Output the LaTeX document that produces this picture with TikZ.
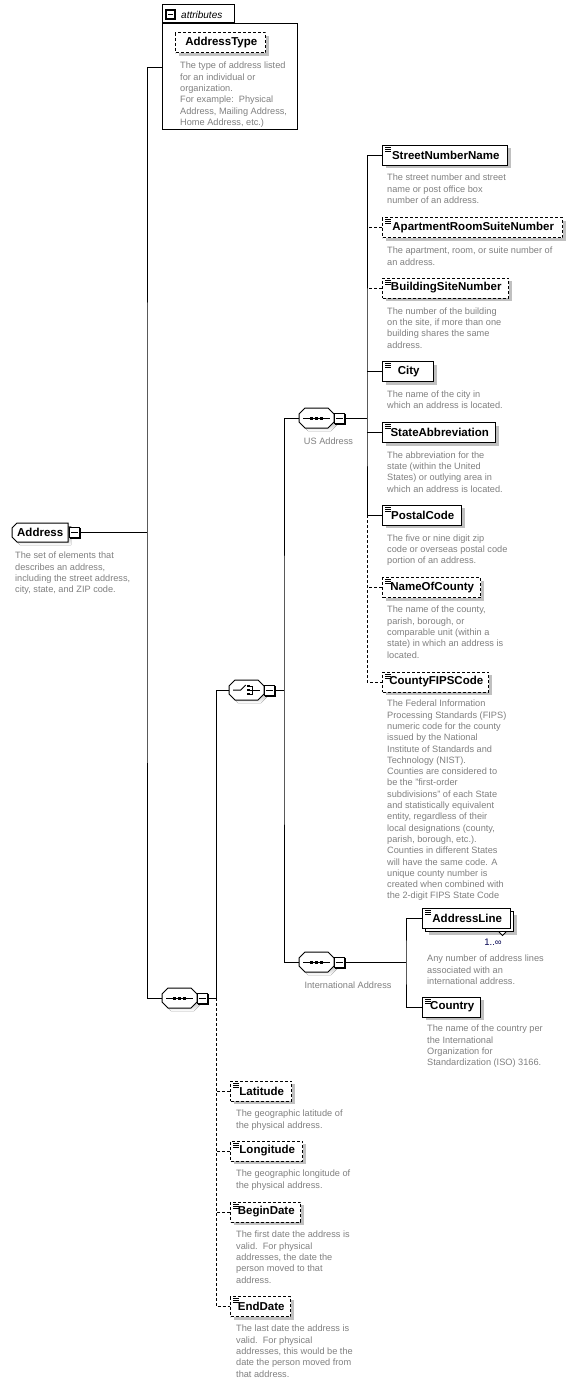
\documentclass[tikz,border=0pt]{standalone}
\usepackage{fontspec}
\setmainfont{Liberation Sans}
\usetikzlibrary{calc,shadows}
\definecolor{desctext}{RGB}{128,128,128}
\definecolor{shade}{RGB}{192,192,192}
\definecolor{occur}{RGB}{0,0,80}
\tikzset{
  conn/.style={line width=1pt},
  optconn/.style={line width=1pt, dash pattern=on 3pt off 2pt},
  elembox/.style={draw, fill=white, line width=1pt, minimum height=20pt, inner xsep=0pt, inner ysep=0pt, anchor=west,
    font=\fontsize{11.5}{13}\selectfont\bfseries, execute at begin node={\hspace*{1.5pt}}},
  shadowed/.style={drop shadow={shadow xshift=3pt, shadow yshift=-3pt, fill=shade, opacity=1}},
  reqbox/.style={elembox, shadowed},
  optbox/.style={elembox, shadowed, dash pattern=on 3pt off 2pt},
  descr/.style={anchor=north west, inner sep=0pt, align=left, text=desctext, font=\fontsize{9.2}{11.3}\selectfont, yshift=-1.5pt},
  complabel/.style={inner sep=0pt, text=desctext, font=\fontsize{9.2}{11.3}\selectfont},
}
\newcommand\elicon[1]{%
  \draw[line width=0.7pt] ([shift={(3,2.5)}]#1.north west) -- ++(6,0)
    ([shift={(3,4.5)}]#1.north west) -- ++(6,0)
    ([shift={(3,6.5)}]#1.north west) -- ++(6,0);}
\newcommand\minusnode[3]{%
  \node[draw, fill=white, line width=1pt, minimum width=10pt, minimum height=10pt, inner sep=0pt] (#1) at (#2,#3) {};
  \draw[line width=1pt] ($(#1.west)+(2,0)$) -- ($(#1.east)+(-2,0)$);
  \draw[line width=1pt] ($(#1.north east)+(0.8,1.2)$) -- ($(#1.south east)+(0.8,0.8)$) -- ($(#1.south west)+(1.2,0.8)$);}
\newcommand\compnode[3]{%
  \node[minimum width=35pt, minimum height=20pt, inner sep=0pt, anchor=west] (#1) at (#2,#3) {};
  \fill[shade] ([shift={(3,-1)}]#1.west) -- ++(6,-6) -- ++(23,0) -- ++(6,6) -- ++(0,8) -- ++(-6,6) -- ++(-23,0) -- ++(-6,-6) -- cycle;
  \draw[fill=white, line width=1pt] ([shift={(0,-4)}]#1.west) -- ++(6,-6) -- ++(23,0) -- ++(6,6) -- ++(0,8) -- ++(-6,6) -- ++(-23,0) -- ++(-6,-6) -- cycle;}
\newcommand\seqicon[1]{%
  \draw[line width=1pt] ([shift={(4,0)}]#1.west) -- ([shift={(-4,0)}]#1.east);
  \foreach \dx in {-5,0,5} \fill ([shift={(\dx-1.5,-1.5)}]#1.center) rectangle ++(3,3);}
\newcommand\choiceicon[1]{%
  \draw[line width=1pt] ([shift={(4,0)}]#1.west) -- ([shift={(-6,0)}]#1.center) -- ([shift={(-1,-5)}]#1.center);
  \foreach \dy in {-4,0,4} \fill ([shift={(0.3,\dy-1.3)}]#1.center) rectangle ++(2.6,2.6);
  \draw[line width=0.8pt] ([shift={(3,-4)}]#1.center) -- ++(3,0) -- ++(0,8) -- ++(-3,0)
    ([shift={(3,0)}]#1.center) -- ([shift={(-4,0)}]#1.east);}
\begin{document}
\begin{tikzpicture}[x=1pt,y=-1pt]
\useasboundingbox[fill=white] (0,0) rectangle (576,1383);

% ---------- attributes group ----------
\node[draw, line width=1pt, anchor=north west, minimum width=135pt, minimum height=106pt, inner sep=0pt] (attrs) at (162,23) {};
\node[draw, line width=1pt, anchor=south west, minimum width=72pt, minimum height=18pt, inner sep=0pt] (attrtab) at (attrs.north west) {};
\draw[line width=1.2pt] (166,10) rectangle (175,19);
\draw[line width=1pt] (168,14.5) -- (173,14.5);
\node[anchor=west, inner sep=0pt, font=\fontsize{10}{12}\selectfont\itshape] (attrlabel) at (181,14.5) {attributes};
\node[optbox, minimum width=90pt] (atype) at (175,43) {AddressType};
\node[descr] (d-atype) at (180,60.5) {The type of address listed\\for an individual or\\organization.\\For example:\ \ Physical\\Address, Mailing Address,\\Home Address, etc.)};
\coordinate (attrin) at (162,68);

% ---------- root ----------
\fill[shade] (20,526) -- (71,526) -- (71,545) -- (20,545) -- (15,540) -- (15,531) -- cycle;
\draw[fill=white, line width=1pt] (17,523) -- (68,523) -- (68,542) -- (17,542) -- (12,537) -- (12,528) -- cycle;
\node[inner sep=0pt, minimum width=56pt, minimum height=19pt, anchor=west, font=\fontsize{11.5}{13}\selectfont\bfseries] (address) at (12,532.5) {Address};
\minusnode{m-address}{74.5}{532.5}
\node[descr] (d-address) at (15,550.5) {The set of elements that\\describes an address,\\including the street address,\\city, state, and ZIP code.};
\coordinate (jA) at (147,532.5);

% ---------- main sequence ----------
\compnode{seq0}{162}{998}
\seqicon{seq0}
\minusnode{m-seq0}{202}{998}
\coordinate (jB) at (216,998);

% ---------- choice ----------
\compnode{ch}{229}{690}
\choiceicon{ch}
\minusnode{m-ch}{269}{690}
\coordinate (jC) at (284,690);

% ---------- US Address ----------
\compnode{usa}{299}{418}
\seqicon{usa}
\minusnode{m-usa}{339}{418}
\node[complabel] (l-usa) at (328.5,441) {US Address};
\coordinate (jD) at (367,418);

\node[reqbox, minimum width=125pt] (sn) at (382,155.5) {StreetNumberName}; \elicon{sn}
\node[descr] (d-sn) at (387,172.5) {The street number and street\\name or post office box\\number of an address.};
\node[optbox, minimum width=180pt] (apt) at (382,227.5) {ApartmentRoomSuiteNumber}; \elicon{apt}
\node[descr] (d-apt) at (387,245.5) {The apartment, room, or suite number of\\an address.};
\node[optbox, minimum width=126pt] (bsn) at (382,288) {BuildingSiteNumber}; \elicon{bsn}
\node[descr] (d-bsn) at (387,306) {The number of the building\\on the site, if more than one\\building shares the same\\address.};
\node[reqbox, minimum width=51pt] (city) at (382,371.5) {City}; \elicon{city}
\node[descr] (d-city) at (387,389) {The name of the city in\\which an address is located.};
\node[reqbox, minimum width=113pt] (state) at (382,432.5) {StateAbbreviation}; \elicon{state}
\node[descr] (d-state) at (387,450) {The abbreviation for the\\state (within the United\\States) or outlying area in\\which an address is located.};
\node[reqbox, minimum width=79pt] (pc) at (382,515) {PostalCode}; \elicon{pc}
\node[descr] (d-pc) at (387,533) {The five or nine digit zip\\code or overseas postal code\\portion of an address.};
\node[optbox, minimum width=98pt] (noc) at (382,587.5) {NameOfCounty}; \elicon{noc}
\node[descr] (d-noc) at (387,604.5) {The name of the county,\\parish, borough, or\\comparable unit (within a\\state) in which an address is\\located.};
\node[optbox, minimum width=106pt] (fips) at (382,682) {CountyFIPSCode}; \elicon{fips}
\node[descr] (d-fips) at (387,698.5) {The Federal Information\\Processing Standards (FIPS)\\numeric code for the county\\issued by the National\\Institute of Standards and\\Technology (NIST).\\Counties are considered to\\be the "first-order\\subdivisions" of each State\\and statistically equivalent\\entity, regardless of their\\local designations (county,\\parish, borough, etc.).\\Counties in different States\\will have the same code. A\\unique county number is\\created when combined with\\the 2-digit FIPS State Code};

% ---------- International Address ----------
\compnode{intl}{299}{962}
\seqicon{intl}
\minusnode{m-intl}{339}{962}
\node[complabel] (l-intl) at (348,985) {International Address};
\coordinate (jE) at (406,962);

\node[reqbox, minimum width=88pt] (al2) at (425,921.5) {\phantom{AddressLine}};
\node[elembox, minimum width=88pt] (al) at (422,918) {AddressLine}; \elicon{al}
\draw[fill=white, line width=0.8pt] ($(al2.south east)+(-15,0)$) -- ++(3.5,3.5) -- ++(3.5,-3.5);
\node[inner sep=0pt, text=occur, font=\fontsize{9.5}{11}\selectfont] (occ-al) at (493,942) {1..∞};
\node[descr] (d-al) at (427,953.5) {Any number of address lines\\associated with an\\international address.};
\node[reqbox, minimum width=58pt] (country) at (422,1007) {Country}; \elicon{country}
\node[descr] (d-country) at (427,1023.5) {The name of the country per\\the International\\Organization for\\Standardization (ISO) 3166.};

% ---------- optional tail of main sequence ----------
\node[optbox, minimum width=61pt] (lat) at (230,1091) {Latitude}; \elicon{lat}
\node[descr] (d-lat) at (236,1108.5) {The geographic latitude of\\the physical address.};
\node[optbox, minimum width=72pt] (lon) at (230,1151) {Longitude}; \elicon{lon}
\node[descr] (d-lon) at (236,1168.5) {The geographic longitude of\\the physical address.};
\node[optbox, minimum width=70pt] (bd) at (230,1212) {BeginDate}; \elicon{bd}
\node[descr] (d-bd) at (236,1229.5) {The first date the address is\\valid.\ \ For physical\\addresses, the date the\\person moved to that\\address.};
\node[optbox, minimum width=60pt] (ed) at (230,1306.5) {EndDate}; \elicon{ed}
\node[descr] (d-ed) at (236,1323.5) {The last date the address is\\valid.\ \ For physical\\addresses, this would be the\\date the person moved from\\that address.};

% ---------- connectors ----------
\draw[conn] (m-address.east) -- (jA);
\draw[conn] (attrin) -| (jA) |- (seq0.west);
\draw[conn] (m-seq0.east) -- (jB);
\draw[conn] (ch.west) -| (jB);
\draw[optconn] (jB) |- (ed.west);
\draw[optconn] (lat.west) -- (lat.west -| jB);
\draw[optconn] (lon.west) -- (lon.west -| jB);
\draw[optconn] (bd.west) -- (bd.west -| jB);

\draw[conn] (m-ch.east) -- (jC);
\draw[conn] (usa.west) -| (jC) |- (intl.west);

\draw[conn] (m-usa.east) -- (jD);
\draw[conn] (sn.west) -| (jD) |- (pc.west);
\draw[conn] (city.west) -- (city.west -| jD);
\draw[conn] (state.west) -- (state.west -| jD);
\draw[optconn] (apt.west) -- (apt.west -| jD);
\draw[optconn] (bsn.west) -- (bsn.west -| jD);
\draw[optconn] (noc.west) -- (noc.west -| jD);
\draw[optconn] (pc.west -| jD) |- (fips.west);

\draw[conn] (m-intl.east) -- (jE);
\draw[conn] (al.west) -| (jE) |- (country.west);
\end{tikzpicture}
\end{document}
